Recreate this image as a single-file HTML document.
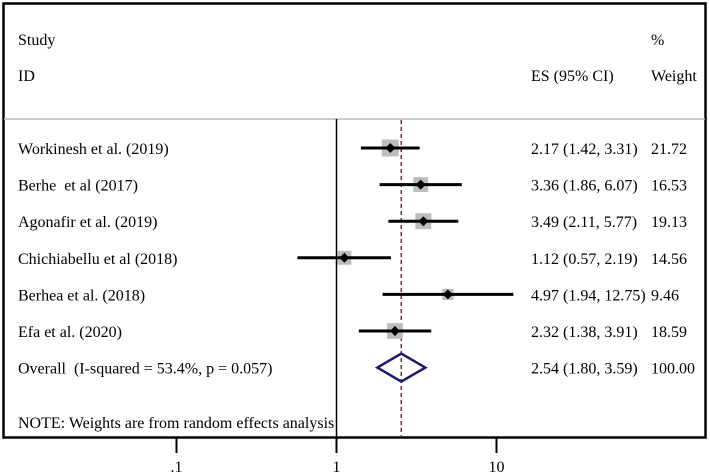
<!DOCTYPE html>
<html><head><meta charset="utf-8">
<style>
html,body{margin:0;padding:0;background:#fff;}
svg{display:block;font-family:"Liberation Serif",serif;}
svg text{white-space:pre;}
</style></head>
<body>
<svg id="chart" width="710" height="475" viewBox="0 0 710 475" xmlns="http://www.w3.org/2000/svg">
<rect x="3.5" y="3.5" width="702" height="434" fill="none" stroke="#000" stroke-width="2.5"/>
<line x1="4" y1="119" x2="705" y2="119" stroke="#bbb" stroke-width="1.5"/>
<text x="18" y="45" font-size="16">Study</text>
<text x="18" y="81" font-size="16">ID</text>
<text x="531" y="81" font-size="16">ES (95% CI)</text>
<text x="651" y="45" font-size="16">%</text>
<text x="651" y="81" font-size="16">Weight</text>
<g id="marks"></g>
<text x="18" y="428" font-size="16">NOTE: Weights are from random effects analysis</text>
</svg>
<script>
const studies = ["Workinesh et al. (2019)","Berhe  et al (2017)","Agonafir et al. (2019)","Chichiabellu et al (2018)","Berhea et al. (2018)","Efa et al. (2020)"];
const es = [2.17,3.36,3.49,1.12,4.97,2.32];
const lo = [1.42,1.86,2.11,0.57,1.94,1.38];
const hi = [3.31,6.07,5.77,2.19,12.75,3.91];
const weights = [21.72,16.53,19.13,14.56,9.46,18.59];
const overall = {label:"Overall  (I-squared = 53.4%, p = 0.057)", es:2.54, lo:1.80, hi:3.59, w:100.00};
const ticks = [0.1,1,10];
const tickLabels = [".1","1","10"];

const NS="http://www.w3.org/2000/svg";
const g=document.getElementById('marks');
function x(v){return 336.5+160*Math.log10(v);}
function rowY(i){return 148+36.6*i;}
function mk(tag,attrs){const e=document.createElementNS(NS,tag);for(const k in attrs)e.setAttribute(k,attrs[k]);g.appendChild(e);return e;}
const fmt=v=>v.toFixed(2);

let e=mk('line',{x1:x(1),y1:119,x2:x(1),y2:453,stroke:'#000','stroke-width':1.5});


e=mk('line',{x1:x(overall.es),y1:120,x2:x(overall.es),y2:437,stroke:'#8b2a2a','stroke-width':1.5,'stroke-dasharray':'4,3'});



studies.forEach((s,i)=>{
  const y=rowY(i);
  let t=mk('text',{x:18,y:y+6,'font-size':16});t.textContent=s;
  
  
  const side=3.65*Math.sqrt(weights[i]);
  let r=mk('rect',{x:x(es[i])-side/2,y:y-side/2,width:side,height:side,fill:'#bdbdbd'});
  
  
  let l=mk('line',{x1:x(lo[i]),y1:y,x2:x(hi[i]),y2:y,stroke:'#000','stroke-width':3});
  
  
  const cx=x(es[i]);
  let d=mk('polygon',{points:`${cx-5},${y} ${cx},${y-5} ${cx+5},${y} ${cx},${y+5}`,fill:'#000'});
  
  
  let t2=mk('text',{x:531,y:y+6,'font-size':16});t2.textContent=`${fmt(es[i])} (${fmt(lo[i])}, ${fmt(hi[i])})`;
  
  
  let t3=mk('text',{x:651,y:y+6,'font-size':16});t3.textContent=fmt(weights[i]);
  
  
});
{
  const y=rowY(6);
  let t=mk('text',{x:18,y:y+6,'font-size':16});t.textContent=overall.label;
  
  
  let d=mk('polygon',{points:`${x(overall.lo)},${y} ${x(overall.es)},${y-14} ${x(overall.hi)},${y} ${x(overall.es)},${y+14}`,fill:'none',stroke:'#1a1a6e','stroke-width':2.5});
  
  
  let t2=mk('text',{x:531,y:y+6,'font-size':16});t2.textContent=`${fmt(overall.es)} (${fmt(overall.lo)}, ${fmt(overall.hi)})`;
  
  
  let t3=mk('text',{x:651,y:y+6,'font-size':16});t3.textContent=fmt(overall.w);
  
  
}
ticks.forEach((v,i)=>{
  let l=mk('line',{x1:x(v),y1:438,x2:x(v),y2:453,stroke:'#000','stroke-width':2});
  
  
  let t=mk('text',{x:x(v),y:472,'font-size':16,'text-anchor':'middle'});t.textContent=tickLabels[i];
  
  
});
</script>
</body></html>
